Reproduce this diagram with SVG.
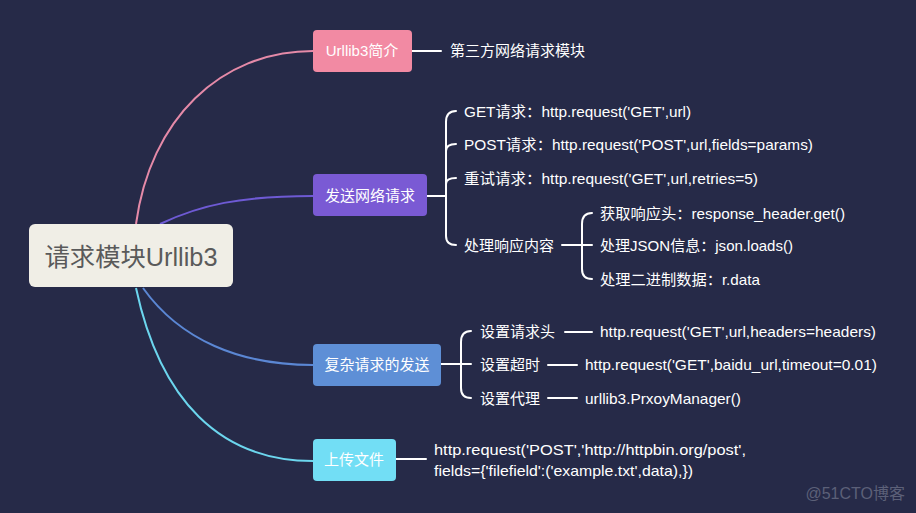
<svg xmlns="http://www.w3.org/2000/svg" width="916" height="513" viewBox="0 0 916 513">
<style>
.t{font-family:"Liberation Sans","Noto Sans CJK SC",sans-serif;fill:#ffffff;font-size:15px}
.n{font-family:"Liberation Sans","Noto Sans CJK SC",sans-serif;fill:#ffffff;font-size:15px;text-anchor:middle}
.w{fill:none;stroke:#ffffff;stroke-width:2;stroke-linecap:round}
.c{fill:none;stroke-width:2}
</style>
<rect x="0" y="0" width="916" height="513" fill="#262a48"/>
<g id="connectors">
<path class="c" stroke="#e58aa8" d="M136,224 C150,120 220,51 313,51"/>
<path class="c" stroke="#6e5ad4" d="M160,224 C200,205 240,196 313,196"/>
<path class="c" stroke="#5b87d4" d="M143,288 C180,340 240,365 313,365"/>
<path class="c" stroke="#6cd6ee" d="M136,288 C160,400 220,461 313,461"/>
<path class="w" d="M412,51 L441,51"/>
<path class="w" d="M427,196 L446,196"/>
<path class="w" d="M456,111 C449,111 446,115 446,122 L446,236 C446,242 449,245 456,245"/>
<path class="w" d="M446,151 C446,146 449,144 456,144"/>
<path class="w" d="M446,184 C446,180 449,178 456,178"/>
<path class="w" d="M562,245 L592,245"/>
<path class="w" d="M592,213 C585,213 582,217 582,224 L582,269 C582,276 585,279 592,279"/>
<path class="w" d="M441,364 L471,364"/>
<path class="w" d="M471,331 C464,331 461,335 461,342 L461,388 C461,395 464,398 471,398"/>
<path class="w" d="M565,332 L592,332"/>
<path class="w" d="M548,365 L577,365"/>
<path class="w" d="M548,398 L577,398"/>
<path class="w" d="M396,459 L426,459"/>
</g>
<g id="root">
<rect x="29" y="224" width="204" height="63" rx="6" fill="#f0eee6"/>
<text x="131" y="266" font-family="Liberation Sans,Noto Sans CJK SC,sans-serif" font-size="25" fill="#5a5a5a" text-anchor="middle" textLength="173" lengthAdjust="spacingAndGlyphs">请求模块Urllib3</text>
</g>
<g id="n1">
<rect x="313" y="30" width="99" height="42" rx="4" fill="#f28aa3"/>
<text class="n" x="362" y="56">Urllib3简介</text>
</g>
<g id="n1a"><text class="t" x="450" y="56">第三方网络请求模块</text></g>
<g id="n2">
<rect x="313" y="174" width="114" height="42" rx="4" fill="#7a5ad4"/>
<text class="n" x="370" y="201">发送网络请求</text>
</g>
<g id="n2a"><text class="t" x="464" y="117" textLength="227" lengthAdjust="spacingAndGlyphs">GET请求：http.request('GET',url)</text></g>
<g id="n2b"><text class="t" x="464" y="150" textLength="349" lengthAdjust="spacingAndGlyphs">POST请求：http.request('POST',url,fields=params)</text></g>
<g id="n2c"><text class="t" x="464" y="184" textLength="294" lengthAdjust="spacingAndGlyphs">重试请求：http.request('GET',url,retries=5)</text></g>
<g id="n2d"><text class="t" x="464" y="251">处理响应内容</text></g>
<g id="n2d1"><text class="t" x="600" y="219" textLength="245" lengthAdjust="spacingAndGlyphs">获取响应头：response_header.get()</text></g>
<g id="n2d2"><text class="t" x="600" y="251" textLength="193" lengthAdjust="spacingAndGlyphs">处理JSON信息：json.loads()</text></g>
<g id="n2d3"><text class="t" x="600" y="285" textLength="160" lengthAdjust="spacingAndGlyphs">处理二进制数据：r.data</text></g>
<g id="n3">
<rect x="313" y="344" width="128" height="42" rx="4" fill="#5e8fd6"/>
<text class="n" x="377" y="370">复杂请求的发送</text>
</g>
<g id="n3a"><text class="t" x="480" y="337">设置请求头</text></g>
<g id="n3a1"><text class="t" x="600" y="337" textLength="276" lengthAdjust="spacingAndGlyphs">http.request('GET',url,headers=headers)</text></g>
<g id="n3b"><text class="t" x="480" y="370">设置超时</text></g>
<g id="n3b1"><text class="t" x="585" y="370" textLength="292" lengthAdjust="spacingAndGlyphs">http.request('GET',baidu_url,timeout=0.01)</text></g>
<g id="n3c"><text class="t" x="480" y="404">设置代理</text></g>
<g id="n3c1"><text class="t" x="585" y="404" textLength="156" lengthAdjust="spacingAndGlyphs">urllib3.PrxoyManager()</text></g>
<g id="n4">
<rect x="313" y="439" width="83" height="42" rx="4" fill="#72def5"/>
<text class="n" x="354" y="465">上传文件</text>
</g>
<g id="n4a"><text class="t" x="434" y="455" textLength="312" lengthAdjust="spacingAndGlyphs">http.request('POST','http://httpbin.org/post',</text><text class="t" x="434" y="476" textLength="259" lengthAdjust="spacingAndGlyphs">fields={'filefield':('example.txt',data),})</text></g>
<text x="905" y="499" font-family="Liberation Sans,Noto Sans CJK SC,sans-serif" font-size="16" fill="#5c6078" text-anchor="end">@51CTO博客</text>
</svg>
